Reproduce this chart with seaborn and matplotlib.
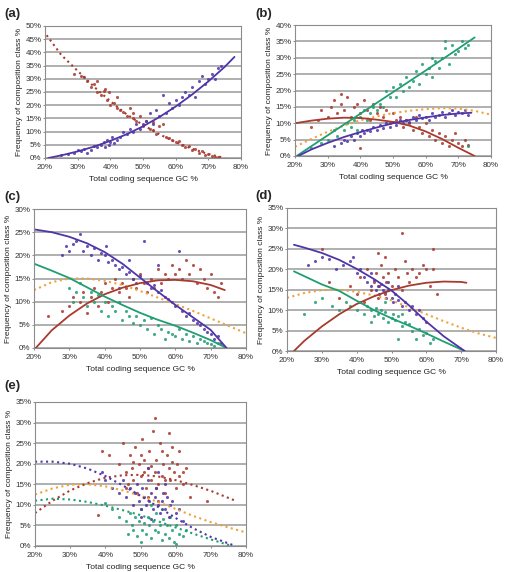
import numpy as np
import pandas as pd
import seaborn as sns
import matplotlib.pyplot as plt
from matplotlib.ticker import FuncFormatter, MultipleLocator

sns.set_theme(style="white")
plt.rcParams['font.family'] = ['Liberation Sans', 'DejaVu Sans']

PURPLE = '#4f35a8'
RED = '#a83a2e'
GREEN = '#1f9e72'
ORANGE = '#f0a238'

# ---- panel (a) ----
a_red_pts = [(29, 32), (31, 31), (32, 30.5), (33, 29), (34, 27), (35, 28), (36, 25), (37, 24), (38, 25.5), (38.5, 26),
             (39, 22), (39.5, 25), (40, 20), (41, 21), (42, 19), (43, 18), (44, 17.5), (45, 16), (46, 19), (47, 15),
             (48, 14), (49, 16), (50, 12), (51, 14), (52, 11), (53, 10.5), (54, 9), (55, 12), (56, 13), (57, 8),
             (58, 7.5), (59, 7), (60, 6), (61, 6.5), (62, 5), (63, 4), (64, 4.5), (65, 3), (66, 3.5), (67, 2),
             (68, 2.5), (69, 1), (70, 1.5), (71, 0.8), (72, 0.5), (73, 0.3), (36, 29), (42, 23), (47, 17), (53, 13.5)]
a_purple_pts = [(25, 1), (27, 1.5), (29, 2), (30, 3), (31, 2.5), (32, 3.5), (33, 2), (34, 3), (35, 4.5), (36, 4),
                (37, 5), (38, 6), (38.5, 4), (39, 7), (39.5, 5), (40, 6), (40.5, 8), (41, 5.5), (42, 7), (43, 8),
                (44, 10), (45, 9), (46, 11), (47, 10), (48, 13), (49, 11), (50, 13), (51, 14), (52, 17), (53, 13),
                (54, 18), (55, 16), (56, 24), (57, 17), (58, 21), (59, 19), (60, 22), (61, 20), (62, 23), (63, 25),
                (64, 24), (65, 27), (66, 23), (67, 29), (68, 31), (69, 28), (70, 30), (71, 32), (72, 30), (73, 34), (74, 35)]
a_red_line = [(20.5, 46.5), (25, 39), (30, 33), (35, 27), (40, 21.5), (45, 16.5), (50, 12.5), (55, 9), (60, 6),
              (65, 3.5), (70, 1.5), (75, 0)]
a_purple_line = [(21, 0), (25, 1), (30, 2.5), (35, 4.3), (40, 6.5), (45, 9), (50, 12), (55, 15.5), (60, 19.5),
                 (65, 24), (70, 29), (75, 34.5), (78, 38.3)]

# ---- panel (b) ----
b_green_pts = [(25, 2.5), (28, 4), (30, 5), (32, 8), (33, 6), (35, 8), (36, 10), (37, 9), (38, 11), (39, 8), (40, 12),
               (41, 14), (42, 11), (43, 13), (44, 15), (45, 14), (46, 16), (47, 15), (48, 20), (49, 18), (50, 21),
               (51, 18), (52, 22), (53, 20), (54, 24), (55, 21), (56, 23), (57, 26), (58, 22), (59, 28), (60, 25),
               (61, 27), (62, 24), (63, 29), (64, 27), (65, 30), (66, 33), (67, 28), (68, 34), (69, 31), (70, 32),
               (71, 35), (72, 33), (73, 34), (66, 35), (62, 30), (73, 3)]
b_purple_pts = [(32, 3), (34, 4), (35, 5), (36, 4.5), (37, 6), (38, 5), (39, 7), (40, 6), (40.5, 8), (41, 7), (42, 8),
                (43, 7.5), (44, 9), (45, 8), (46, 9.5), (47, 8.5), (48, 10), (49, 9), (50, 10.5), (51, 9.5), (52, 11),
                (53, 10), (54, 11), (55, 10.5), (56, 12), (57, 11), (58, 12.5), (59, 11.5), (60, 12), (61, 11),
                (62, 13), (63, 12), (64, 12.5), (65, 13.5), (66, 12), (67, 13), (68, 14), (69, 12.5), (70, 13.5),
                (71, 13), (72, 14), (73, 12.5)]
b_red_pts = [(25, 9), (27, 11), (28, 14), (30, 12), (31, 15), (32, 17), (33, 13), (34, 16), (35, 14), (36, 18),
             (37, 12), (38, 15), (39, 16), (40, 13), (41, 17), (42, 14), (43, 11), (44, 16), (45, 13), (46, 15),
             (47, 12), (48, 14), (49, 10), (50, 13), (51, 11), (52, 12), (53, 9), (54, 11), (55, 10), (56, 8),
             (57, 12), (58, 9), (59, 7), (60, 10), (61, 6), (62, 8), (63, 5), (64, 7), (65, 4), (66, 6), (67, 3),
             (68, 5), (69, 7), (70, 4), (71, 3), (72, 5), (73, 3.5), (34, 19), (40, 2.5)]
b_green_line = [(20.5, 0), (30, 6.3), (40, 12.9), (50, 19.5), (60, 26.1), (70, 32.8), (75, 36.2)]
b_purple_line = [(21, 0), (25, 2), (30, 4), (35, 5.8), (40, 7.3), (45, 8.7), (50, 10), (55, 11), (60, 11.8),
                 (65, 12.5), (70, 13), (74, 13.2)]
b_red_line = [(20, 10), (25, 10.8), (30, 11.4), (35, 11.7), (40, 11.6), (45, 11.1), (50, 10.4), (55, 9.3),
              (60, 7.5), (65, 5.2), (70, 2.5), (75, 0)]
b_orange_line = [(20, 2.8), (25, 5.2), (30, 7.4), (35, 9.3), (40, 10.9), (45, 12.1), (50, 13.1), (55, 13.8),
                 (60, 14.3), (65, 14.6), (70, 14.5), (75, 13.8), (80, 12.6)]

# ---- panel (c) ----
c_purple_pts = [(28, 20), (29, 22), (30, 21), (31, 22.5), (32, 23), (33, 24.5), (34, 21), (35, 22), (36, 20),
                (37, 21.5), (38, 19), (39, 20.5), (40, 20), (40.5, 22), (41, 18.5), (42, 19), (43, 18), (44, 17),
                (45, 17.5), (46, 16), (47, 16.5), (48, 15), (49, 14), (50, 15.5), (51, 23), (52, 14), (53, 13),
                (54, 13.5), (55, 12), (56, 12.5), (57, 11), (58, 10.5), (59, 10), (60, 9), (61, 21), (62, 8), (63, 7),
                (64, 7.5), (65, 6), (66, 5.5), (67, 5), (68, 4), (69, 3.5), (70, 3), (71, 2), (72, 2.5), (73, 1),
                (47, 19), (55, 18), (44, 13)]
c_green_pts = [(30, 13), (31, 10), (32, 12), (33, 14), (34, 11), (35, 9), (36, 12), (37, 10), (38, 11.5), (39, 8),
               (40, 10), (41, 7), (42, 9), (43, 8), (44, 10), (45, 6), (46, 8), (47, 7), (48, 5.5), (49, 7), (50, 5),
               (51, 6), (52, 4), (53, 6.5), (54, 3), (55, 5), (56, 4), (57, 2), (58, 3.5), (59, 3), (60, 2.5),
               (61, 4), (62, 2), (63, 3), (64, 1.5), (65, 2.5), (66, 1), (67, 2), (68, 1.5), (69, 1), (70, 0.8),
               (71, 0.5), (72, 1)]
c_red_pts = [(24, 7), (28, 8), (30, 9), (31, 11), (33, 10), (34, 12), (35, 7.5), (36, 11), (37, 13), (38, 9),
             (39, 12), (40, 14), (41, 10), (42, 13), (43, 15), (44, 12), (45, 14), (46, 13), (47, 11), (48, 15),
             (49, 13), (50, 16), (51, 14), (52, 12), (53, 15), (54, 13), (55, 17), (56, 14), (57, 16), (58, 15),
             (59, 18), (60, 16), (61, 17), (62, 15), (63, 19), (64, 16), (65, 18), (66, 14), (67, 17), (68, 15),
             (69, 13), (70, 16), (71, 12), (72, 11), (73, 14)]
c_purple_line = [(20, 25.6), (25, 25), (30, 24), (35, 22.6), (40, 20.7), (45, 18.2), (50, 15.2), (55, 12.2),
                 (60, 9.3), (65, 6.6), (70, 3.9), (74.5, 0)]
c_green_line = [(20, 18.2), (25, 16.7), (30, 15.1), (35, 13.1), (40, 11.1), (45, 9.3), (50, 7.6), (55, 6.1),
                (60, 4.8), (65, 3.3), (70, 1.7), (74.5, 0)]
c_red_line = [(20.5, 0), (25, 3.8), (30, 7), (35, 9.6), (40, 11.6), (45, 13), (50, 14), (55, 14.6), (60, 14.7),
              (65, 14.4), (70, 13.6), (74, 12.5)]
c_orange_line = [(20, 12.5), (25, 14.2), (30, 15), (35, 15), (40, 14.5), (45, 13.6), (50, 12.3), (55, 10.9),
                 (60, 9.5), (65, 8), (70, 6.4), (75, 4.8), (80, 3.2)]

# ---- panel (d) ----
d_purple_pts = [(26, 21), (28, 22), (30, 23), (32, 22.5), (34, 20), (36, 21), (38, 22), (39, 23), (40, 19), (41, 20),
                (42, 18), (43, 17), (44, 16), (45, 17.5), (45.5, 15), (46, 16), (46.5, 14), (47, 16.5), (47.5, 15),
                (48, 14.5), (48.5, 13), (49, 15), (50, 13), (50.5, 12), (51, 14), (52, 12.5), (53, 11), (54, 12),
                (55, 10), (56, 11), (57, 9), (58, 10), (59, 8), (60, 7), (52, 16), (44, 19), (49, 17)]
d_green_pts = [(25, 9), (28, 12), (30, 13), (33, 11), (35, 10), (37, 12), (38, 11), (40, 10), (41, 12), (42, 9),
               (43, 11), (44, 10), (45, 8.5), (45.5, 10.5), (46, 9), (47, 10), (47.5, 8), (48, 9.5), (49, 7), (50, 8),
               (50.5, 9), (51, 7.5), (52, 8.5), (53, 6), (54, 7), (55, 6.5), (56, 5), (57, 3), (58, 5.5), (59, 4),
               (60, 4.5), (61, 2), (62, 3), (53, 9), (48, 12), (44, 7), (52, 3)]
d_red_pts = [(30, 25), (32, 17), (35, 13), (38, 16), (40, 14), (41, 18), (42, 12), (43, 20), (44, 15), (45, 17),
             (45.5, 19), (46, 13), (46.5, 16), (47, 21), (47.5, 18), (48, 14), (48.5, 17), (49, 19), (50, 16),
             (51, 20), (52, 18), (53, 15), (54, 22), (54.5, 19), (55, 17), (56, 20), (57, 18), (58, 19), (59, 21),
             (60, 20), (61, 16), (62, 20), (63, 14), (53, 29), (46, 24), (48, 23), (62, 25)]
d_purple_line = [(22, 26), (25, 25.3), (30, 24), (35, 22.3), (40, 20.1), (45, 17.6), (50, 14.8), (55, 11.2),
                 (60, 7.2), (65, 3.6), (71, 0)]
d_green_line = [(22, 19.5), (25, 18.3), (30, 16.3), (35, 14.7), (40, 12.3), (45, 10), (50, 8), (55, 6.2),
                (60, 4.3), (65, 2.3), (71, 0)]
d_red_line = [(22, 0), (25, 2.5), (30, 6), (35, 9), (40, 11.5), (45, 13.4), (50, 14.9), (55, 16), (60, 16.7),
              (65, 17), (70, 16.9), (71.5, 16.7)]
d_orange_line = [(20, 13), (25, 14.2), (30, 14.9), (35, 15), (40, 14.5), (45, 13.6), (50, 12.4), (55, 10.7),
                 (60, 9), (65, 7.3), (70, 5.7), (75, 4.3), (80, 3.2)]

# ---- panel (e) ----
e_red_pts = [(38, 7.5), (39, 23), (41, 22), (44, 20), (45, 25), (46, 18), (46.5, 15), (47, 22), (47.5, 19), (48, 16),
             (48.5, 24), (49, 13), (49.5, 20), (50, 17), (50.5, 26), (51, 21), (51.5, 14), (52, 19), (52.5, 23),
             (53, 16), (53.5, 28), (54, 18), (54.5, 21), (55, 15), (55.5, 25), (56, 17), (56.5, 20), (57, 13),
             (57.5, 22), (58, 19), (58.5, 16), (59, 24), (59.5, 18), (60, 14), (60.5, 20), (61, 17), (62, 15),
             (63, 19), (64, 12), (54, 31), (58, 27.5), (52, 12), (55, 11), (50, 22), (48, 20.5), (56, 23),
             (53, 19.5), (57, 16), (59, 20.5), (51, 18), (46, 14), (61, 23), (54.5, 14), (62, 18), (69, 11)]
e_purple_pts = [(39, 18), (40, 16), (42, 14), (44, 13), (45, 16), (46, 12), (47, 14), (48, 10), (48.5, 13), (49, 15),
                (49.5, 11), (50, 9), (50.5, 14), (51, 12), (51.5, 10), (52, 16), (52.5, 11), (53, 13), (53.5, 9),
                (54, 12), (54.5, 14), (55, 10), (55.5, 8), (56, 11), (56.5, 13), (57, 9), (57.5, 12), (58, 7),
                (58.5, 10), (59, 11), (60, 8), (61, 9), (62, 6), (52, 19), (55, 18), (50, 7), (53, 6.5), (57, 15)]
e_green_pts = [(40, 10.5), (42, 9), (44, 7), (46, 6), (46.5, 3), (47, 8), (47.5, 5), (48, 4), (48.5, 7), (49, 2.5),
               (49.5, 6), (50, 9), (50.5, 4), (51, 5.5), (51.5, 3), (52, 7), (52.5, 5), (53, 2), (53.5, 6), (54, 4),
               (54.5, 8), (55, 3.5), (55.5, 5), (56, 1.5), (56.5, 6.5), (57, 3), (57.5, 5), (58, 2), (58.5, 7),
               (59, 4), (59.5, 1), (60, 5), (61, 3), (62, 2.5), (63, 4), (53, 10), (56, 9), (50, 1), (60, 0.5)]
e_purple_line = [(20, 20.5), (25, 20.5), (30, 20), (35, 18.8), (40, 17), (45, 14.7), (50, 12.2), (55, 9.5),
                 (60, 6.8), (65, 4.3), (70, 2.2), (77, 0)]
e_red_line = [(20, 8), (25, 11), (30, 13.5), (35, 15.3), (40, 16.6), (45, 17.2), (50, 17.3), (55, 16.9), (60, 16),
              (65, 14.8), (70, 13.4), (77, 11)]
e_orange_line = [(20, 12.5), (25, 14), (30, 14.9), (35, 15), (40, 14.5), (45, 13.5), (50, 12.2), (55, 10.7),
                 (60, 9), (65, 7.3), (70, 5.8), (75, 4.5), (80, 3.3)]
e_green_line = [(20, 11), (25, 11.5), (30, 11.3), (35, 10.7), (40, 9.8), (45, 8.7), (50, 7.5), (55, 6), (60, 4.5),
                (65, 3), (70, 1.6), (76, 0)]


def to_df(pairs):
    return pd.DataFrame(pairs, columns=["gc", "freq"])


def draw_panel(ax, ymax, points, lines):
    for pts, color in points:
        sns.scatterplot(data=to_df(pts), x="gc", y="freq", color=color, s=5, linewidth=0,
                        alpha=0.85, ax=ax, legend=False)
    for pts, color, dotted in lines:
        sns.lineplot(data=to_df(pts), x="gc", y="freq", color=color, sort=False, estimator=None,
                     linewidth=1.3 if not dotted else 1.5, linestyle=':' if dotted else '-', ax=ax)

    ax.set_xlim(20, 80)
    ax.set_ylim(0, ymax)
    ax.xaxis.set_major_locator(MultipleLocator(10))
    ax.yaxis.set_major_locator(MultipleLocator(5))
    pct = FuncFormatter(lambda v, p: f"{v:.0f}%")
    ax.xaxis.set_major_formatter(pct)
    ax.yaxis.set_major_formatter(pct)
    ax.yaxis.grid(True, color='#9a9a9a', linewidth=1.1)
    ax.set_axisbelow(True)
    for s in ax.spines.values():
        s.set_color('#8c8c8c')
        s.set_linewidth(0.8)
    ax.tick_params(axis='both', labelsize=5.8, length=1.5, width=0.6, color='#777777', pad=1,
                   bottom=True, left=True, labelcolor='#333333')
    ax.tick_params(axis='x', pad=3)
    ax.set_xlabel('Total coding sequence GC %', fontsize=6.0, labelpad=3.5, color='#222222')
    ax.set_ylabel('Frequency of composition class %', fontsize=6.0, labelpad=2, color='#222222')


W, H = 507, 572
fig = plt.figure(figsize=(W / 100, H / 100), dpi=100)


def box(left, top, right, bottom):
    return [left / W, 1 - bottom / H, (right - left) / W, (bottom - top) / H]


ax_a = fig.add_axes(box(45, 26, 241, 158))
ax_b = fig.add_axes(box(295, 25, 491, 156))
ax_c = fig.add_axes(box(34, 209, 246, 348))
ax_d = fig.add_axes(box(287, 208, 496, 351))
ax_e = fig.add_axes(box(35, 402, 246, 546))

draw_panel(ax_a, 50,
           [(a_red_pts, RED), (a_purple_pts, PURPLE)],
           [(a_red_line, RED, True), (a_purple_line, PURPLE, False)])
draw_panel(ax_b, 40,
           [(b_red_pts, RED), (b_green_pts, GREEN), (b_purple_pts, PURPLE)],
           [(b_orange_line, ORANGE, True), (b_red_line, RED, False), (b_green_line, GREEN, False),
            (b_purple_line, PURPLE, False)])
draw_panel(ax_c, 30,
           [(c_red_pts, RED), (c_green_pts, GREEN), (c_purple_pts, PURPLE)],
           [(c_orange_line, ORANGE, True), (c_red_line, RED, False), (c_green_line, GREEN, False),
            (c_purple_line, PURPLE, False)])
draw_panel(ax_d, 35,
           [(d_red_pts, RED), (d_green_pts, GREEN), (d_purple_pts, PURPLE)],
           [(d_orange_line, ORANGE, True), (d_red_line, RED, False), (d_green_line, GREEN, False),
            (d_purple_line, PURPLE, False)])
draw_panel(ax_e, 35,
           [(e_red_pts, RED), (e_green_pts, GREEN), (e_purple_pts, PURPLE)],
           [(e_orange_line, ORANGE, True), (e_red_line, RED, True), (e_green_line, GREEN, True),
            (e_purple_line, PURPLE, True)])

# panel letters, placed in figure pixels
for text, px, py in [('(a)', 4, 14), ('(b)', 255, 14), ('(c)', 4, 197), ('(d)', 255, 196), ('(e)', 4, 386)]:
    fig.text(px / W, 1 - py / H, text, fontsize=9.5, fontweight='bold', va='center', ha='left')

fig.savefig('out.png', dpi=100)
